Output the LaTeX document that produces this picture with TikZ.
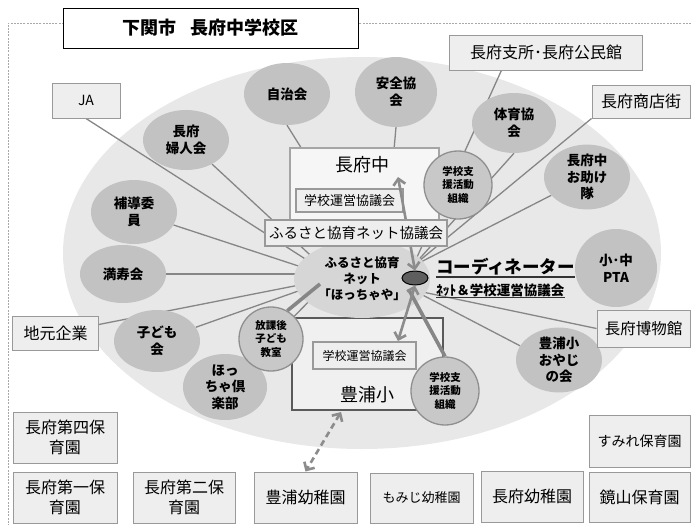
\documentclass[tikz,border=0pt]{standalone}
\usepackage{fontspec}
\setmainfont{Noto Sans CJK JP}
\usetikzlibrary{shapes.geometric,arrows.meta,calc}
\pgfdeclarelayer{bgzero}
\pgfdeclarelayer{bgone}
\pgfdeclarelayer{fg}
\pgfsetlayers{bgzero,bgone,main,fg}
\definecolor{bigfill}{HTML}{E8E8E8}
\definecolor{orgfill}{HTML}{C2C2C2}
\definecolor{cirfill}{HTML}{C8C8C8}
\definecolor{cirline}{HTML}{8F8F8F}
\definecolor{ctrfill}{HTML}{D6D6D6}
\definecolor{boxfill}{HTML}{EEEEEE}
\definecolor{boxline}{HTML}{999999}
\definecolor{conncol}{HTML}{868686}
\definecolor{arrcol}{HTML}{8C8C8C}
\definecolor{dashc}{HTML}{A8A8A8}
\definecolor{hubfill}{HTML}{5E5E5E}
\definecolor{chufill}{HTML}{F6F6F6}
\definecolor{chuline}{HTML}{A5A5A5}
\definecolor{shoufill}{HTML}{F0F0F0}
\definecolor{shouline}{HTML}{5A5A5A}
\definecolor{ulcol}{HTML}{333333}
\begin{document}
\begin{tikzpicture}[x=1pt,y=-1pt,
  orgE/.style={ellipse,fill=orgfill,inner sep=0pt,align=center,font=\fontsize{13.5}{16.5}\selectfont\bfseries},
  supC/.style={circle,fill=cirfill,draw=cirline,line width=1.3pt,inner sep=0pt,minimum size=68pt,align=center,font=\fontsize{10.5}{13.5}\selectfont\bfseries},
  lbox/.style={rectangle,fill=boxfill,draw=boxline,line width=1pt,inner sep=0pt,align=center,font=\fontsize{16}{20}\selectfont},
  conn/.style={draw=conncol,line width=1.3pt},
  thickconn/.style={draw=conncol,line width=3.6pt},
  arrw/.style={draw=arrcol,line width=2.6pt,{Straight Barb[length=6pt,width=12pt]}-{Straight Barb[length=6pt,width=12pt]}},
]
\useasboundingbox (0,0) rectangle (691,525);

% background
\begin{pgfonlayer}{bgzero}
\draw[dashc,line width=0.8pt,dash pattern=on 2pt off 1.2pt] (691,23) -- (8,23) -- (8,525);
\fill[bigfill] (362,253) ellipse [x radius=299pt, y radius=196pt];
\end{pgfonlayer}

% title
\node[draw=black,fill=white,line width=1pt,minimum width=295pt,minimum height=40pt,inner sep=0pt,font=\fontsize{18}{20}\selectfont\bfseries] (title) at (210.5,28) {下関市\hspace{14pt}長府中学校区};

% organisations
\node[orgE,minimum width=86pt,minimum height=62pt] (jichi) at (287,94) {自治会};
\node[orgE,minimum width=82pt,minimum height=70pt] (anzen) at (396,92) {安全協\\会};
\node[orgE,minimum width=84pt,minimum height=60pt] (taiiku) at (514,123) {体育協\\会};
\node[orgE,minimum width=86pt,minimum height=60pt] (fujin) at (186,140) {長府\\婦人会};
\node[orgE,minimum width=86pt,minimum height=64pt] (hodou) at (134,212) {補導委\\員};
\node[orgE,minimum width=86pt,minimum height=58pt] (suju) at (123,274) {満寿会};
\node[orgE,minimum width=86pt,minimum height=62pt] (kodomo) at (157,341) {子ども\\会};
\node[orgE,minimum width=84pt,minimum height=66pt] (hoccha) at (225,387) {ほっ\\ちゃ倶\\楽部};
\node[orgE,minimum width=86pt,minimum height=62pt] (otasuke) at (587,177) {長府中\\お助け\\隊};
\node[orgE,minimum width=82pt,minimum height=78pt] (pta) at (616,268) {小･中\\PTA};
\node[orgE,minimum width=86pt,minimum height=62pt] (oyaji) at (559,360) {豊浦小\\おやじ\\の会};

% label boxes
\node[lbox,minimum width=68pt,minimum height=35pt,font=\fontsize{14}{16}\selectfont] (ja) at (86,100.5) {JA};
\node[lbox,minimum width=193pt,minimum height=35pt] (shisho) at (546,52.5) {長府支所･長府公民館};
\node[lbox,minimum width=98pt,minimum height=33pt] (shoten) at (641,101.5) {長府商店街};
\node[lbox,minimum width=93pt,minimum height=37pt,font=\fontsize{15.5}{20}\selectfont] (hakubutsu) at (643.5,328.5) {長府博物館};
\node[lbox,minimum width=86pt,minimum height=34pt] (jimoto) at (55.5,333) {地元企業};
\node[lbox,minimum width=104pt,minimum height=51pt] (daiyon) at (65,437.5) {長府第四保\\育園};
\node[lbox,minimum width=104pt,minimum height=51pt] (daiichi) at (65,497.5) {長府第一保\\育園};
\node[lbox,minimum width=102pt,minimum height=51pt] (daini) at (184,497.5) {長府第二保\\育園};
\node[lbox,minimum width=103pt,minimum height=51pt] (toyoyo) at (305.5,497.5) {豊浦幼稚園};
\node[lbox,minimum width=103pt,minimum height=50pt,font=\fontsize{13}{16}\selectfont] (momiji) at (421.5,498) {もみじ幼稚園};
\node[lbox,minimum width=102pt,minimum height=51pt] (chofuyo) at (532,496.5) {長府幼稚園};
\node[lbox,minimum width=101pt,minimum height=50pt] (kagami) at (639.5,497) {鏡山保育園};
\node[lbox,minimum width=101pt,minimum height=52pt,font=\fontsize{14}{16}\selectfont] (sumire) at (639.5,441) {すみれ保育園};

% schools
\node[draw=chuline,fill=chufill,line width=1.8pt,minimum width=149pt,minimum height=97pt,inner sep=0pt] (chuu) at (364.5,196.5) {};
\node[font=\fontsize{18}{20}\selectfont,inner sep=0pt] (chuutxt) at (362,165) {長府中};
\node[lbox,minimum width=107pt,minimum height=23pt,font=\fontsize{13}{15}\selectfont,line width=1.3pt] (unei1) at (349.5,200.5) {学校運営協議会};
\node[draw=shouline,fill=shoufill,line width=2.2pt,minimum width=151pt,minimum height=92pt,inner sep=0pt] (shou) at (367.5,364) {};
\node[font=\fontsize{18}{20}\selectfont,inner sep=0pt] (shoutxt) at (367,395) {豊浦小};
\node[lbox,minimum width=103pt,minimum height=27pt,font=\fontsize{12}{14}\selectfont,line width=1.3pt] (unei2) at (364.5,355.5) {学校運営協議会};
\node[ellipse,fill=ctrfill,minimum width=136pt,minimum height=78pt,inner sep=0pt,align=center,font=\fontsize{12.5}{16}\selectfont\bfseries] (ctr) at (362,279) {ふるさと協育\\ネット\\「ほっちゃや」};

% foreground
\begin{pgfonlayer}{fg}
\node[supC] (gs1) at (458,185) {学校支\\援活動\\組織};
\node[supC] (gs2) at (445,391) {学校支\\援活動\\組織};
\node[supC,minimum size=64pt] (houkago) at (271,339) {放課後\\子ども\\教室};
\node[ellipse,fill=hubfill,draw=black,line width=1pt,minimum width=26pt,minimum height=14pt,inner sep=0pt] (hub) at (415,278) {};
\coordinate (a1) at (398,177);
\coordinate (a2) at (398,341);
\coordinate (d1) at (341,412);
\draw[arrw] (hub.north) -- (a1);
\draw[arrw] (hub.south) -- (a2);
\draw[arrw,dash pattern=on 6pt off 4pt] (d1) -- (toyoyo.north);
\node[lbox,minimum width=182pt,minimum height=26pt,font=\fontsize{14.5}{16}\selectfont,line width=1.3pt] (furu) at (356,233) {ふるさと協育ネット協議会};
\node[anchor=west,font=\fontsize{17.5}{20}\selectfont\bfseries,inner sep=0pt] (coordi) at (436,267) {コーディネーター};
\node[anchor=west,font=\fontsize{13.5}{16}\selectfont\bfseries,inner sep=0pt] (coordi2) at (436,290) {ﾈｯﾄ＆学校運営協議会};
\draw[ulcol,line width=1.8pt] ([yshift=-1pt]coordi.south west) -- ([yshift=-1pt]coordi.south east);
\draw[ulcol,line width=1.4pt] ([yshift=-1pt]coordi2.south west) -- ([yshift=-1pt]coordi2.south east);
\end{pgfonlayer}

% thick connectors (above school boxes, below circles)
\coordinate (tR3) at (409,290);
\coordinate (tH) at (320,284);
\draw[thickconn] (gs2.north) -- (tR3);
\draw[thickconn] (houkago.60) -- (tH);

% thin connectors
\begin{pgfonlayer}{bgone}
\coordinate (tL) at (335,278);
\coordinate (tS) at (335,274);
\coordinate (tJ) at (365,250);
\coordinate (tA) at (385,250);
\coordinate (tR) at (413,266);
\coordinate (tR2) at (413,290);
\coordinate (tHo) at (320,290);
\draw[conn] (ja.south) -- (tL);
\draw[conn] (fujin) -- (tL);
\draw[conn] (hodou) -- (tL);
\draw[conn] (suju) -- (tS);
\draw[conn] (jimoto) -- (tL);
\draw[conn] (kodomo) -- (tL);
\draw[conn] (hoccha) -- (tHo);
\draw[conn] (jichi.south) -- (tJ);
\draw[conn] (anzen.south) -- (tA);
\draw[conn] ($(shisho.south west)!0.27!(shisho.south east)$) -- (tR);
\draw[conn] (taiiku.south) -- (tR);
\draw[conn] (shoten.south west) -- (tR);
\draw[conn] (otasuke) -- (tR);
\draw[conn] (hakubutsu.west) -- (tR2);
\draw[conn] (oyaji.160) -- (tR2);
\end{pgfonlayer}
\end{tikzpicture}
\end{document}
